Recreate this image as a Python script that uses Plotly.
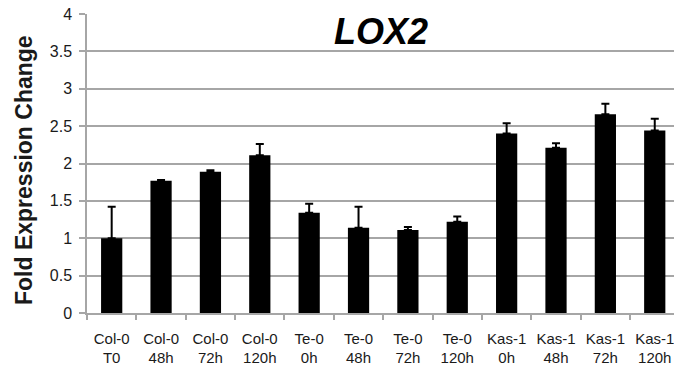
import plotly.graph_objects as go

categories = ["Col-0<br>T0", "Col-0<br>48h", "Col-0<br>72h", "Col-0<br>120h",
              "Te-0<br>0h", "Te-0<br>48h", "Te-0<br>72h", "Te-0<br>120h",
              "Kas-1<br>0h", "Kas-1<br>48h", "Kas-1<br>72h", "Kas-1<br>120h"]
values = [1.00, 1.77, 1.89, 2.11, 1.34, 1.14, 1.11, 1.22, 2.40, 2.21, 2.66, 2.44]
errors = [0.42, 0.01, 0.02, 0.15, 0.12, 0.28, 0.04, 0.07, 0.14, 0.06, 0.14, 0.16]
y_ticks = [0, 0.5, 1, 1.5, 2, 2.5, 3, 3.5, 4]
y_ticklabels = ["0", "0.5", "1", "1.5", "2", "2.5", "3", "3.5", "4"]

fig = go.Figure()
fig.add_trace(go.Bar(
    x=categories, y=values,
    marker=dict(color="black", line=dict(width=0)),
    width=0.43,
    error_y=dict(type="data", array=errors, arrayminus=[0]*len(errors), symmetric=False,
                 color="black", thickness=2, width=4),
))

plot_w = 674 - 87
plot_h = 379 - 14 - 66

fig.update_layout(
    width=674, height=379,
    margin=dict(l=87, r=0, t=14, b=66),
    paper_bgcolor="white", plot_bgcolor="white",
    showlegend=False,
    font=dict(family="Liberation Sans, Arial, sans-serif", color="#222222"),
    xaxis=dict(
        range=[-0.5, 11.39],
        showgrid=False,
        showline=True, linecolor="#a6a6a6", linewidth=1.5,
        ticks="outside", tickson="boundaries", ticklen=5, tickcolor="#a6a6a6", tickwidth=1.5,
        tickfont=dict(size=15, color="#1a1a1a"),
        ticklabelstandoff=11,
    ),
    yaxis=dict(
        range=[0, 4],
        tickvals=y_ticks, ticktext=y_ticklabels,
        showgrid=True, gridcolor="#a6a6a6", gridwidth=1.5,
        showline=True, linecolor="#a6a6a6", linewidth=1.5,
        ticks="outside", ticklen=6, tickcolor="#a6a6a6", tickwidth=1.5,
        tickfont=dict(size=16, color="#1a1a1a"),
        ticklabelstandoff=4,
        zeroline=False,
    ),
    annotations=[
        dict(text="<b><i>LOX2</i></b>", xref="paper", yref="paper",
             x=(381 - 87) / plot_w, y=(379 - 66 - 32) / plot_h,
             xanchor="center", yanchor="middle",
             showarrow=False, font=dict(size=36, color="black")),
        dict(text="<b>Fold Expression Change</b>", textangle=-90, showarrow=False,
             xref="paper", yref="paper",
             x=(24 - 87) / plot_w, y=(379 - 66 - 170) / plot_h,
             xanchor="center", yanchor="middle",
             font=dict(size=23, color="#1a1a1a")),
    ],
)

fig.write_html("out.html")
